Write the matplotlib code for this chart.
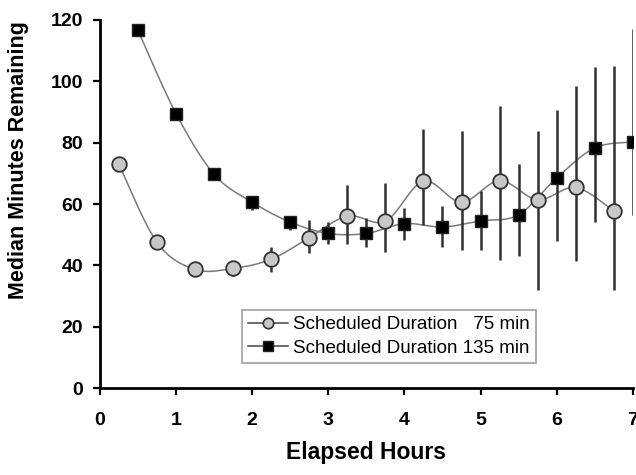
import numpy as np
import matplotlib
matplotlib.use("Agg")
import matplotlib.pyplot as plt

plt.rcParams['font.family'] = ['Liberation Sans', 'DejaVu Sans']

# ---- data ----
hours_75 = [0.25, 0.75, 1.25, 1.75, 2.25, 2.75, 3.25, 3.75, 4.25, 4.75, 5.25, 5.75, 6.25, 6.75]
median_75 = [73.0, 47.5, 38.7, 39.0, 42.0, 49.0, 56.1, 54.4, 67.4, 60.6, 67.6, 61.4, 65.4, 57.7]
upper_75 = [73.0, 47.5, 38.7, 39.0, 46.1, 54.7, 66.1, 66.7, 84.6, 83.7, 91.9, 83.7, 98.4, 105.0]
lower_75 = [73.0, 47.5, 38.7, 36.5, 37.9, 43.9, 47.1, 44.4, 53.1, 45.0, 41.7, 31.9, 41.4, 32.1]

hours_135 = [0.5, 1.0, 1.5, 2.0, 2.5, 3.0, 3.5, 4.0, 4.5, 5.0, 5.5, 6.0, 6.5, 7.0]
median_135 = [116.6, 89.5, 69.7, 60.6, 54.1, 50.4, 50.4, 53.6, 52.5, 54.5, 56.5, 68.5, 78.3, 80.2]
upper_135 = [116.6, 89.5, 69.7, 60.6, 54.1, 54.2, 55.3, 58.8, 59.3, 64.2, 73.2, 90.6, 104.7, 117.1]
lower_135 = [116.6, 89.5, 69.7, 58.0, 51.5, 47.1, 46.1, 48.2, 46.0, 45.0, 43.0, 48.0, 54.2, 56.4]

label_75 = "Scheduled Duration   75 min"
label_135 = "Scheduled Duration 135 min"
xticks = [0, 1, 2, 3, 4, 5, 6, 7]
yticks = [0, 20, 40, 60, 80, 100, 120]


def smooth(x, y, n=20):
    """Catmull-Rom curve through the points (line rendering only)."""
    x = np.asarray(x, float)
    y = np.asarray(y, float)
    P = np.column_stack([x, y])
    P = np.vstack([P[0], P, P[-1]])
    out = []
    t = np.linspace(0, 1, n, endpoint=False)[:, None]
    for i in range(1, len(P) - 2):
        p0, p1, p2, p3 = P[i - 1], P[i], P[i + 1], P[i + 2]
        seg = 0.5 * ((2 * p1) + (-p0 + p2) * t + (2 * p0 - 5 * p1 + 4 * p2 - p3) * t ** 2
                     + (-p0 + 3 * p1 - 3 * p2 + p3) * t ** 3)
        out.append(seg)
    out.append(P[-2][None, :])
    out = np.vstack(out)
    return out[:, 0], out[:, 1]


fig = plt.figure(figsize=(6.36, 4.75), dpi=100)
ax = fig.add_axes([0.157, 0.183, 0.838, 0.775])

line_col = '#7a7a7a'
bar_col = '#303030'

# error bars
for xs, m, up, lo in [(hours_75, median_75, upper_75, lower_75),
                      (hours_135, median_135, upper_135, lower_135)]:
    m = np.array(m); up = np.array(up); lo = np.array(lo)
    ax.errorbar(xs, m, yerr=[m - lo, up - m], fmt='none', ecolor=bar_col,
                elinewidth=1.8, capsize=0, zorder=3)

sx, sy = smooth(hours_75, median_75)
ax.plot(sx, sy, color=line_col, lw=1.1, zorder=2)
sx, sy = smooth(hours_135, median_135)
ax.plot(sx, sy, color=line_col, lw=1.1, zorder=2)

ax.plot(hours_75, median_75, 'o', ms=10.5, mfc='#c8c8c8', mec='#333333', mew=1.3, zorder=4)
ax.plot(hours_135, median_135, 's', ms=9, mfc='black', mec='#222222', mew=1.0, zorder=4)

# legend handles
h1, = ax.plot([], [], '-o', color='#444444', lw=1.1, ms=7.5, mfc='#c8c8c8', mec='#333333', mew=1.2)
h2, = ax.plot([], [], '-s', color='#444444', lw=1.1, ms=6.5, mfc='black', mec='#222222', mew=1.0)
leg = ax.legend([h1, h2], [label_75, label_135], loc='upper left',
                bbox_to_anchor=(242 / 636, 1 - 310 / 475), bbox_transform=fig.transFigure,
                fontsize=13.5, frameon=True, fancybox=False, handlelength=2.1,
                handletextpad=0.3, borderpad=0.33, labelspacing=0.33, borderaxespad=0)
leg.get_frame().set_edgecolor('#888888')
leg.get_frame().set_linewidth(1.2)

ax.set_xlim(0, 7)
ax.set_ylim(0, 120)
ax.set_xticks(xticks)
ax.set_yticks(yticks)
ax.set_xticklabels([str(v) for v in xticks], fontsize=14, fontweight='bold')
ax.set_yticklabels([str(v) for v in yticks], fontsize=14, fontweight='bold')
ax.tick_params(axis='x', direction='out', length=5, width=1.6, pad=12)
ax.tick_params(axis='y', direction='out', length=5, width=1.6, pad=7)

for s in ['top', 'right']:
    ax.spines[s].set_visible(False)
for s in ['left', 'bottom']:
    ax.spines[s].set_linewidth(2)
    ax.spines[s].set_color('black')

ax.set_xlabel('Elapsed Hours', fontsize=16.5, fontweight='bold')
ax.xaxis.set_label_coords(0.5, -0.145)
ax.set_ylabel('Median Minutes Remaining', fontsize=15.5, fontweight='bold')
ax.yaxis.set_label_coords(-0.133, 0.62)

fig.savefig('out.png', dpi=100)
